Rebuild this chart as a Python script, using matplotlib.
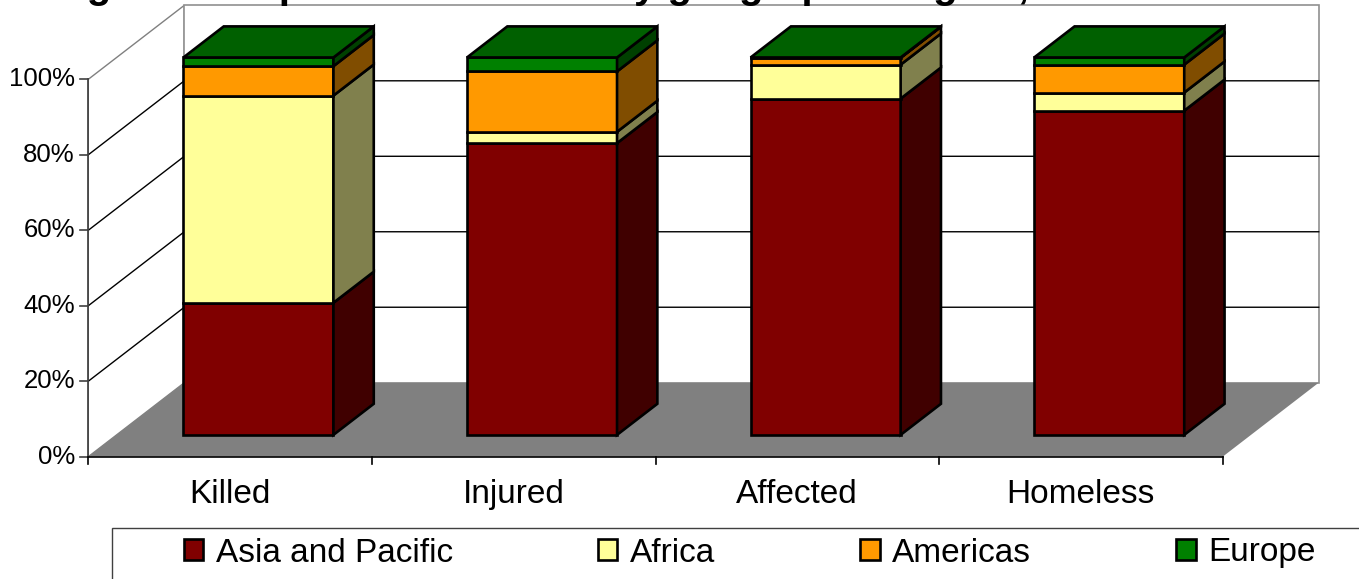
import matplotlib.pyplot as plt
from matplotlib.colors import to_rgb
from matplotlib.patches import Patch, Polygon, Rectangle

plt.rcParams['font.family'] = ['Liberation Sans', 'DejaVu Sans']

categories = ['Killed', 'Injured', 'Affected', 'Homeless']
regions = ['Asia and Pacific', 'Africa', 'Americas', 'Europe']
asia_pacific = [35.0, 77.3, 89.1, 85.9]
africa = [54.9, 3.0, 9.0, 4.8]
americas = [7.8, 16.0, 1.8, 7.4]
europe = [2.3, 3.7, 0.1, 1.9]
region_colors = ['#800000', '#ffff99', '#ff9900', '#008000']
y_ticks = [0, 20, 40, 60, 80, 100]
title = 'Figure 3: Impact of disasters by geographic region, 1994-2003'

W, H = 1359, 579
fig = plt.figure(figsize=(W / 100, H / 100), dpi=100)
ax = fig.add_axes([0, 0, 1, 1])
ax.set_xlim(-0.3114, 4.4806)
ax.set_ylim(-32.41, 121.01)
ax.axis('off')

# oblique depth of the plot box (category units, percent units)
DX, DY = 0.3385, 19.6
# bars occupy the middle of the depth
Z0, Z1 = 0.295, 0.715
BAR_W = 0.529
EDGE = dict(ec='black', lw=1.9, joinstyle='miter')


def shade(color, f):
    r, g, b = to_rgb(color)
    return (r * f, g * f, b * f)


def poly(pts, **kw):
    ax.add_patch(Polygon(pts, closed=True, **kw))


n = len(categories)
# walls and floor
poly([(0, 0), (DX, DY), (DX, 100 + DY), (0, 100)], fc='white', ec='#808080', lw=1, zorder=1)
poly([(DX, DY), (n + DX, DY), (n + DX, 100 + DY), (DX, 100 + DY)], fc='white', ec='#909090', lw=1.2, zorder=1)
poly([(0, 0), (n, 0), (n + DX, DY), (DX, DY)], fc='#808080', ec='none', zorder=2)

for v in y_ticks[1:-1]:
    ax.plot([0, DX, n + DX], [v, v + DY, v + DY], color='black', lw=1, zorder=1.5)

# axes lines and ticks
ax.plot([0, 0], [0, 100], color='#404040', lw=1.2, zorder=3)
ax.plot([0, n], [0, 0], color='black', lw=1.2, zorder=3)
for v in y_ticks:
    ax.plot([-0.028, 0], [v, v], color='#404040', lw=1.2, zorder=3)
    ax.text(-0.047, v, f'{v}%', ha='right', va='center', fontsize=18.5)
for i in range(n + 1):
    ax.plot([i, i], [0, -1.9], color='black', lw=1.2, zorder=3)
for i, name in enumerate(categories):
    ax.text(i + 0.5, -10.0, name, ha='center', va='center', fontsize=24)

# stacked 3D bars
series = [asia_pacific, africa, americas, europe]
ox0, oy0 = Z0 * DX, Z0 * DY
ox1, oy1 = Z1 * DX, Z1 * DY
for i in range(n):
    xl = i + 0.5 - BAR_W / 2
    xr = i + 0.5 + BAR_W / 2
    base = 0.0
    for k, vals in enumerate(series):
        top = base + vals[i]
        col = region_colors[k]
        poly([(xl + ox0, base + oy0), (xr + ox0, base + oy0),
              (xr + ox0, top + oy0), (xl + ox0, top + oy0)], fc=col, zorder=5, **EDGE)
        poly([(xr + ox0, base + oy0), (xr + ox1, base + oy1),
              (xr + ox1, top + oy1), (xr + ox0, top + oy0)], fc=shade(col, 0.5), zorder=5, **EDGE)
        base = top
    poly([(xl + ox0, base + oy0), (xr + ox0, base + oy0),
          (xr + ox1, base + oy1), (xl + ox1, base + oy1)],
         fc=shade(region_colors[-1], 0.75), zorder=6, **EDGE)

# legend
handles = [Patch(fc=c, ec='black', lw=1.9) for c in region_colors]
fig.legend(handles, regions, loc='center left', bbox_to_anchor=(184 / W, 1 - 553 / H),
           ncol=4, frameon=False, fontsize=24, handlelength=0.58, handleheight=0.6,
           handletextpad=0.38, columnspacing=4.35, borderpad=0, borderaxespad=0)
fig.add_artist(Rectangle((112 / W, -0.1), 1.0, 0.1 + 1 - 528 / H, transform=fig.transFigure,
                         fill=False, ec='#404040', lw=1))

fig.text(51 / W, 1 + 2 / H, title, fontsize=29, fontweight='bold', ha='left', va='baseline')

fig.savefig('out.png', dpi=100)
